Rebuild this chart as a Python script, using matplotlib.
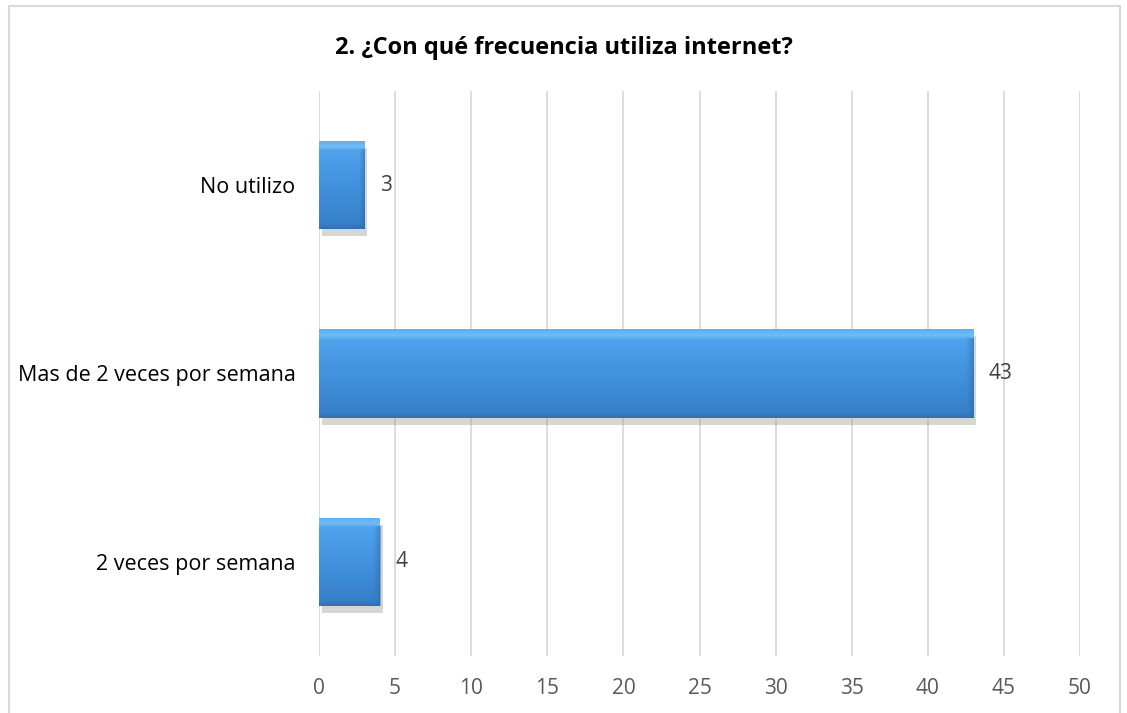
import numpy as np
import matplotlib
matplotlib.use("Agg")
import matplotlib.pyplot as plt
from matplotlib.patches import Rectangle
from matplotlib.colors import LinearSegmentedColormap
import matplotlib.patheffects as pe

categories = ["2 veces por semana", "Mas de 2 veces por semana", "No utilizo"]
values = [4, 43, 3]
x_ticks = [0, 5, 10, 15, 20, 25, 30, 35, 40, 45, 50]
title = "2. ¿Con qué frecuencia utiliza internet?"

plt.rcParams["font.family"] = ["Open Sans", "DejaVu Sans"]

fig = plt.figure(figsize=(11.27, 7.13), dpi=100)
ax = fig.add_axes([319 / 1127, 1 - 656 / 713, (1080 - 319) / 1127, (656 - 91) / 713])

y = np.arange(len(categories))
bars = ax.barh(y, values, height=0.47, color="#4090dc", zorder=3,
               path_effects=[pe.SimplePatchShadow(offset=(2, -5), shadow_rgbFace="#9a9a9a", alpha=0.4),
                             pe.Normal()])

# vertical gradient with a soft bevel on each bar
grad_cmap = LinearSegmentedColormap.from_list(
    "bar", [(0.0, "#306fb3"), (0.06, "#3780c9"), (0.5, "#4292de"),
            (0.88, "#4fa2ec"), (0.93, "#70bdf6"), (1.0, "#5cadf0")])
grad = np.linspace(0, 1, 256).reshape(-1, 1)
edge_cmap = LinearSegmentedColormap.from_list(
    "edge", [(0.0, (0.18, 0.42, 0.70, 0.0)), (1.0, (0.16, 0.38, 0.64, 0.5))])
hgrad = np.linspace(0, 1, 64).reshape(1, -1)
for b in bars:
    x0, y0, w, h = b.get_x(), b.get_y(), b.get_width(), b.get_height()
    im = ax.imshow(grad, cmap=grad_cmap, aspect="auto", origin="lower",
                   extent=(x0, x0 + w, y0, y0 + h), zorder=4, interpolation="bicubic")
    im.set_clip_path(b)
    # darker right-hand bevel
    ew = min(0.5, w * 0.12)
    em = ax.imshow(hgrad, cmap=edge_cmap, aspect="auto", origin="lower",
                   extent=(x0 + w - ew, x0 + w, y0, y0 + h * 0.9), zorder=5,
                   interpolation="bicubic")
    em.set_clip_path(b)

for yi, v in zip(y, values):
    ax.annotate(str(v), (v, yi), xytext=(11, 0), textcoords="offset points",
                ha="left", va="center", fontsize=15, color="#404040", zorder=6)

ax.set_xlim(0, 50)
ax.set_ylim(-0.5, 2.5)
ax.set_xticks(x_ticks)
ax.set_xticklabels([str(t) for t in x_ticks], fontsize=15, color="#595959")
ax.set_yticks(y)
ax.set_yticklabels(categories, fontsize=15.5, color="#000000")
ax.tick_params(axis="x", length=0, pad=16)
ax.tick_params(axis="y", length=0, pad=17)
ax.grid(axis="x", color="#d9d9d9", lw=1.3, zorder=0)
for s in ax.spines.values():
    s.set_visible(False)

fig.text(0.5, 1 - 48 / 713, title, ha="center", va="center", fontsize=17,
         fontweight="bold", color="#000000")

# chart area border
fig.patches.append(Rectangle((9 / 1127, -0.02), (1120 - 9) / 1127, 1 - 6 / 713 + 0.02,
                             transform=fig.transFigure, fill=False, ec="#d9d9d9", lw=1.5))

fig.savefig("out.png", dpi=100)
